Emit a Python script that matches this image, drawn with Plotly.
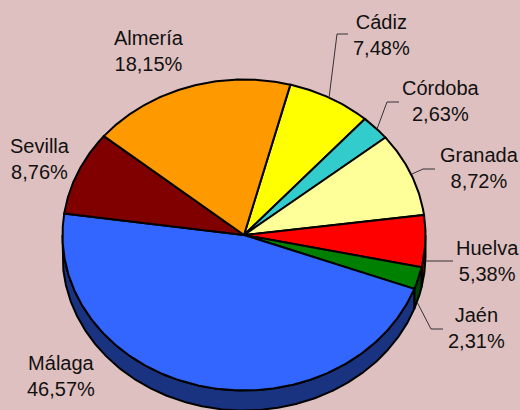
import math
import plotly.graph_objects as go

# Data (clockwise, starting from Cádiz)
categories = ["Cádiz", "Córdoba", "Granada", "Huelva", "Jaén", "Málaga", "Sevilla", "Almería"]
values = [7.48, 2.63, 8.72, 5.38, 2.31, 46.57, 8.76, 18.15]
top_colors = ["#FFFF00", "#33CCCC", "#FFFF99", "#FF0000", "#008000", "#3366FF", "#800000", "#FF9900"]
side_colors = ["#808000", "#1A6666", "#80804D", "#800000", "#004000", "#1A3380", "#400000", "#804D00"]

# Layout (pixels in the 520x410 picture)
W, H = 520, 410
CX, CY, RX, RY, DEPTH = 244, 235, 181.5, 155.5, 20
START_DEG = 14.8
BG = "#DFC0C0"
label_pos = {"Cádiz": (381, 34.5), "Córdoba": (441, 100.5), "Granada": (479, 167.5), "Huelva": (487, 260.5),
             "Jaén": (476, 328), "Málaga": (61, 375.5), "Sevilla": (40, 158.5), "Almería": (149, 50.5)}
leaders = [[(348, 34), (337, 34), (329, 98)], [(399, 102), (387, 102), (377, 129)],
           [(435, 169), (423, 169), (412, 174)], [(453, 261), (426, 261)],
           [(443, 329), (431, 329), (417, 302)]]


def px(x, y):
    return (x - CX) / RX, (CY - y) / RY


def arc(a, b, dy=0.0):
    n = max(2, int(abs(b - a) / 0.5) + 1)
    angles = [a + (b - a) * i / (n - 1) for i in range(n)]
    return [math.sin(math.radians(t)) for t in angles], [math.cos(math.radians(t)) - dy for t in angles]


fig = go.Figure()
total = sum(values)
edges = [START_DEG]
for v in values:
    edges.append(edges[-1] + 360 * v / total)

# Extruded wall (only the front half of the ellipse is visible)
d = DEPTH / RY
for i, name in enumerate(categories):
    a, b = max(edges[i], 90), min(edges[i + 1], 270)
    if b <= a:
        continue
    x1, y1 = arc(a, b)
    x2, y2 = arc(b, a, d)
    fig.add_trace(go.Scatter(x=x1 + x2 + x1[:1], y=y1 + y2 + y1[:1], mode="lines", fill="toself",
                             fillcolor=side_colors[i], line=dict(color="black", width=2),
                             hoverinfo="skip", showlegend=False))

# Top face
for i, name in enumerate(categories):
    x1, y1 = arc(edges[i], edges[i + 1])
    fig.add_trace(go.Scatter(x=[0] + x1 + [0], y=[0] + y1 + [0], mode="lines", fill="toself",
                             fillcolor=top_colors[i], line=dict(color="black", width=2),
                             name=name, text=f"{name} {values[i]:.2f}%".replace(".", ","),
                             hoverinfo="text", showlegend=False))

# Leader lines
for pts in leaders:
    xy = [px(*p) for p in pts]
    fig.add_trace(go.Scatter(x=[p[0] for p in xy], y=[p[1] for p in xy], mode="lines",
                             line=dict(color="#333333", width=1), hoverinfo="skip", showlegend=False))

# Labels
for name, v in zip(categories, values):
    x, y = px(*label_pos[name])
    fig.add_annotation(x=x, y=y, text=f"{name}<br>{v:.2f}%".replace(".", ","), showarrow=False,
                       xanchor="center", yanchor="middle", align="center",
                       font=dict(family="Liberation Sans", size=20, color="#111111"))

fig.update_layout(width=W, height=H, margin=dict(l=0, r=0, t=0, b=0), paper_bgcolor=BG, plot_bgcolor=BG,
                  xaxis=dict(visible=False, range=[-CX / RX, (W - CX) / RX], fixedrange=True),
                  yaxis=dict(visible=False, range=[(CY - H) / RY, CY / RY], fixedrange=True),
                  showlegend=False)
fig.write_html("out.html", config={"displayModeBar": False},
               post_script="document.body.style.margin='0';document.documentElement.style.overflow='hidden';")
